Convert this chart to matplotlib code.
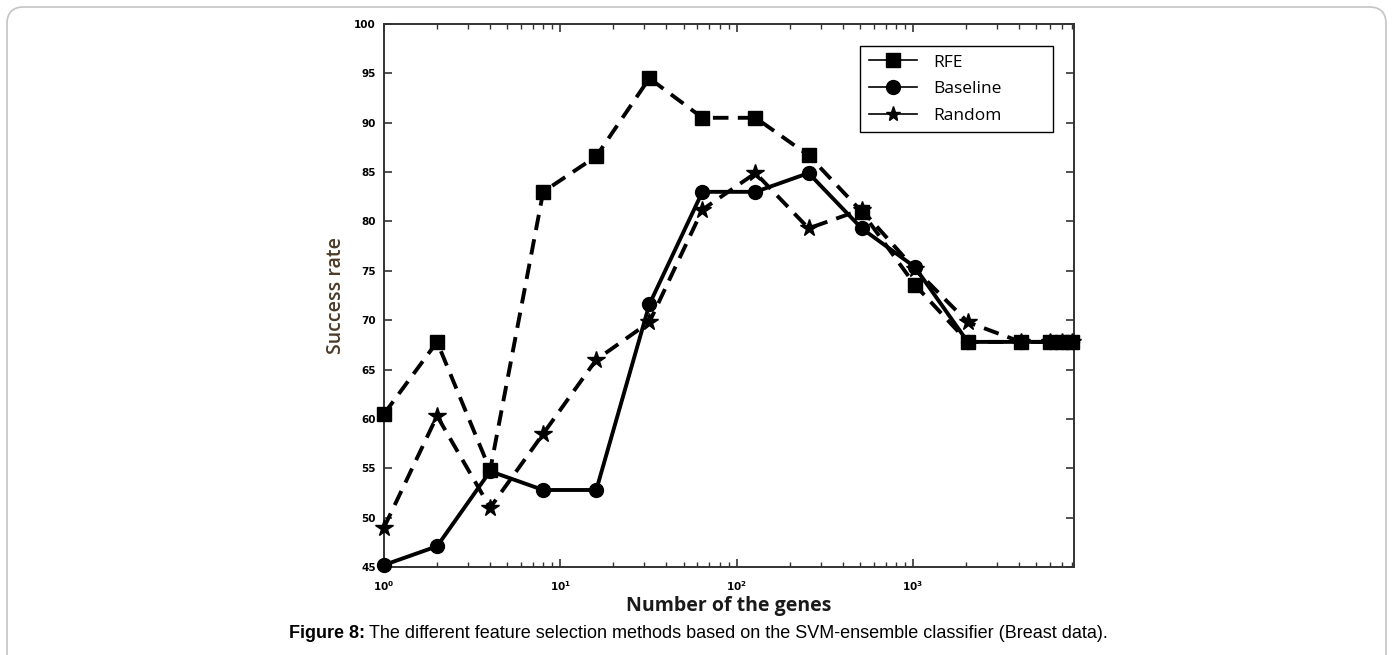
import matplotlib
matplotlib.use("Agg")
import matplotlib.pyplot as plt
from matplotlib.lines import Line2D
from matplotlib.patches import FancyBboxPatch
from matplotlib.ticker import LogLocator, NullFormatter, FixedLocator

# Number of genes used by each selection step
genes = [1, 2, 4, 8, 16, 32, 64, 128, 256, 512, 1024, 2048, 4096, 6000, 7000, 8000]

# Success rates (%) of the SVM-ensemble classifier
rfe = [60.5, 67.8, 54.8, 83.0, 86.6, 94.5, 90.5, 90.5, 86.7, 81.0, 73.6, 67.8, 67.8, 67.8, 67.8, 67.8]
baseline = [45.2, 47.1, 54.7, 52.8, 52.8, 71.6, 83.0, 83.0, 84.9, 79.3, 75.4, 67.8, 67.8, 67.8, 67.8, 67.8]
random_sel = [49.0, 60.3, 51.0, 58.5, 66.0, 69.8, 81.2, 84.9, 79.3, 81.2, 75.2, 69.8, 67.8, 67.8, 67.8, 67.8]

y_ticks = [45, 50, 55, 60, 65, 70, 75, 80, 85, 90, 95, 100]
x_major = [1, 10, 100, 1000]
x_labels = [r"$\mathbf{10^{0}}$", r"$\mathbf{10^{1}}$", r"$\mathbf{10^{2}}$", r"$\mathbf{10^{3}}$"]
legend_names = ["RFE", "Baseline", "Random"]

W, H = 1394, 655
fig = plt.figure(figsize=(W / 100, H / 100), dpi=100)

# light rounded frame around the figure panel
frame = FancyBboxPatch((7 / W, -0.05), 1379 / W, 1 - 7 / H + 0.05,
                       boxstyle="round,pad=0,rounding_size=0.012",
                       transform=fig.transFigure, facecolor="none",
                       edgecolor="#c4c4c4", linewidth=1.2, mutation_aspect=W / H)
fig.patches.append(frame)

ax = fig.add_axes([384 / W, 1 - 567 / H, 690 / W, 543 / H])
ax.set_xscale("log")
ax.set_xlim(1, 8200)
ax.set_ylim(45, 100)

lw = 2.8
dash = (0, (4.0, 2.4))
ax.plot(genes, rfe, color="black", lw=lw, linestyle=dash, marker="s", ms=10, clip_on=False, zorder=3)
ax.plot(genes, baseline, color="black", lw=lw, linestyle="-", marker="o", ms=10, clip_on=False, zorder=4)
ax.plot(genes, random_sel, color="black", lw=lw, linestyle=dash, marker="*", ms=13, clip_on=False, zorder=3)

for s in ax.spines.values():
    s.set_linewidth(1.4)
    s.set_color("#333333")

ax.xaxis.set_major_locator(FixedLocator(x_major))
ax.set_xticklabels(x_labels)
ax.xaxis.set_minor_locator(LogLocator(base=10, subs=range(2, 10), numticks=20))
ax.xaxis.set_minor_formatter(NullFormatter())
ax.set_yticks(y_ticks)
ax.set_yticklabels([str(v) for v in y_ticks], fontweight="bold")
ax.tick_params(which="both", direction="in", top=True, right=True, color="#333333")
ax.tick_params(which="major", length=6, width=1.2, labelsize=7.5)
ax.tick_params(axis="x", which="major", pad=9)
ax.tick_params(axis="y", which="major", pad=6)
ax.tick_params(which="minor", length=3.5, width=1.0)

ax.set_xlabel("Number of the genes", family="Open Sans", fontweight="bold",
              fontsize=14, color="#1a1a1a", labelpad=2)
ax.set_ylabel("Success rate", family="Open Sans", fontweight="semibold",
              fontsize=14, color="#4a3a26", labelpad=6)

handles = [
    Line2D([], [], color="black", lw=1.2, marker="s", ms=10),
    Line2D([], [], color="black", lw=1.2, marker="o", ms=10),
    Line2D([], [], color="black", lw=1.2, marker="*", ms=11),
]
leg = ax.legend(handles, legend_names, loc="upper left",
                bbox_to_anchor=(0.690, 0.808, 0.280, 0.152), mode="expand",
                frameon=True, fancybox=False, edgecolor="black", framealpha=1,
                prop={"family": "Open Sans", "size": 12.5}, handlelength=2.8,
                borderpad=0.5, labelspacing=0.6, handletextpad=0.9, borderaxespad=0)
leg.get_frame().set_linewidth(1.0)

t1 = fig.text(289 / W, 1 - 633 / H, "Figure 8:", family="Liberation Sans",
              fontweight="bold", fontsize=13, va="center", ha="left")
fig.canvas.draw()
bb = t1.get_window_extent()
fig.text((bb.x1 + 4) / W, 1 - 633 / H,
         "The different feature selection methods based on the SVM-ensemble classifier (Breast data).",
         family="Liberation Sans", fontsize=13, va="center", ha="left")

fig.savefig("out.png", dpi=100)
